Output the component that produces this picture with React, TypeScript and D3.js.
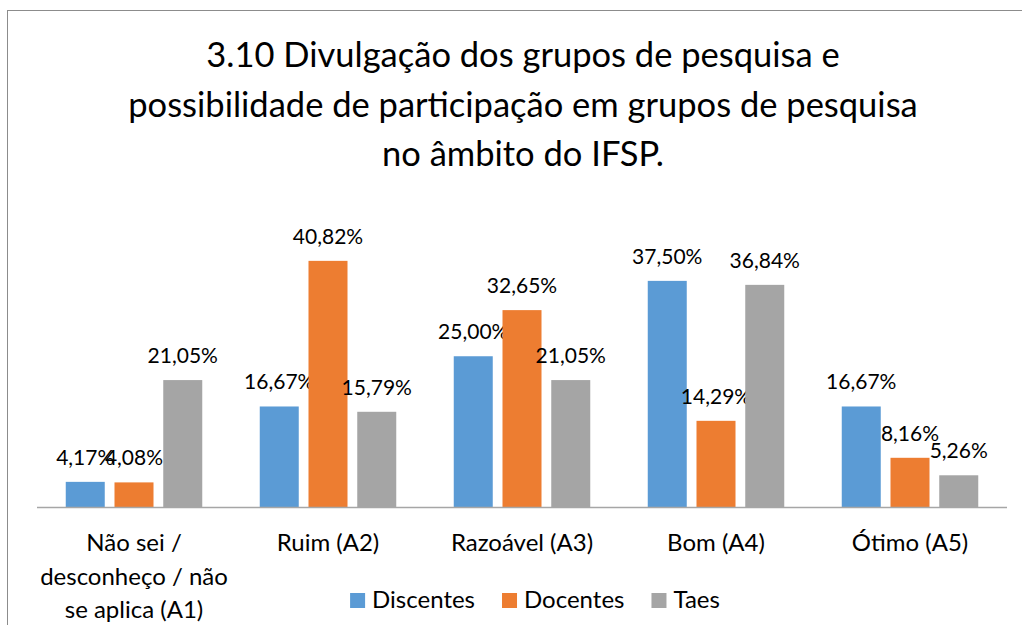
import * as d3 from 'd3';
import React, { useRef, useEffect } from 'react';

const categories = [
  ['Não sei /', 'desconheço / não', 'se aplica (A1)'],
  ['Ruim (A2)'],
  ['Razoável (A3)'],
  ['Bom (A4)'],
  ['Ótimo (A5)'],
];
const seriesNames = ['Discentes', 'Docentes', 'Taes'];
const discentes = [4.17, 16.67, 25.0, 37.5, 16.67];
const docentes = [4.08, 40.82, 32.65, 14.29, 8.16];
const taes = [21.05, 15.79, 21.05, 36.84, 5.26];
const colors = ['#5B9BD5', '#ED7D31', '#A5A5A5'];
const titleLines = [
  '3.10 Divulgação dos grupos de pesquisa e',
  'possibilidade de participação em grupos de pesquisa',
  'no âmbito do IFSP.',
];

const W = 1022;
const H = 625;
const FONT = 'Lato, "Open Sans", sans-serif';

function App() {
  const ref = useRef(null);

  useEffect(() => {
    const svg = d3.select(ref.current);
    svg.selectAll('*').remove();

    const series = [discentes, docentes, taes];
    const keys = categories.map((c, i) => 'c' + i);

    // chart area border (only left/top visible in the crop)
    svg.append('rect')
      .attr('x', 7.5).attr('y', 10.5)
      .attr('width', 1200).attr('height', 800)
      .attr('fill', '#fff').attr('stroke', '#8c8c8c').attr('stroke-width', 1);

    // title
    const title = svg.append('text')
      .attr('text-anchor', 'middle')
      .style('font-family', FONT).style('font-size', '34.5px').attr('fill', '#000');
    titleLines.forEach((t, i) => {
      title.append('tspan').attr('x', 523).attr('y', 67 + i * 49.5).text(t);
    });

    const baseY = 507;
    const x0 = d3.scaleBand().domain(keys).range([37, 1007]).padding(0);
    const groupW = 136.5;
    const x1 = d3.scaleBand().domain(seriesNames).range([0, groupW]).paddingInner(0.2);
    const y = d3.scaleLinear().domain([0, 50]).range([baseY, baseY - 301.5]);

    const g = svg.append('g');
    series.forEach((vals, si) => {
      const off = (x0.bandwidth() - groupW) / 2;
      g.selectAll('.bar' + si)
        .data(vals)
        .enter()
        .append('rect')
        .attr('x', (d, i) => x0(keys[i]) + off + x1(seriesNames[si]))
        .attr('y', (d) => y(d))
        .attr('width', x1.bandwidth())
        .attr('height', (d) => baseY - y(d))
        .attr('fill', colors[si]);

      g.selectAll('.lab' + si)
        .data(vals)
        .enter()
        .append('text')
        .attr('x', (d, i) => x0(keys[i]) + off + x1(seriesNames[si]) + x1.bandwidth() / 2)
        .attr('y', (d) => y(d) - 17)
        .attr('text-anchor', 'middle')
        .style('font-family', FONT).style('font-size', '21px').attr('fill', '#000')
        .text((d) => d.toFixed(2).replace('.', ',') + '%');
    });

    // category axis
    svg.append('line')
      .attr('x1', 37).attr('x2', 1007)
      .attr('y1', baseY + 0.5).attr('y2', baseY + 0.5)
      .attr('stroke', '#a6a6a6').attr('stroke-width', 1.3);

    categories.forEach((lines, i) => {
      const t = svg.append('text')
        .attr('text-anchor', 'middle')
        .style('font-family', FONT).style('font-size', '24px').attr('fill', '#000');
      lines.forEach((ln, j) => {
        t.append('tspan')
          .attr('x', x0(keys[i]) + x0.bandwidth() / 2)
          .attr('y', 551 + j * 33.5)
          .text(ln);
      });
    });

    // legend
    const legend = svg.append('g');
    let cx = 0;
    seriesNames.forEach((name, i) => {
      const item = legend.append('g').attr('transform', `translate(${cx},0)`);
      item.append('rect').attr('x', 0).attr('y', -15).attr('width', 15).attr('height', 15).attr('fill', colors[i]);
      const txt = item.append('text')
        .attr('x', 22).attr('y', 0)
        .style('font-family', FONT).style('font-size', '24px').attr('fill', '#000')
        .text(name);
      const w = txt.node().getComputedTextLength();
      cx += 22 + w + 27;
    });
    const totalW = cx - 27;
    legend.attr('transform', `translate(${535 - totalW / 2},608)`);
  }, []);

  return (
    <svg ref={ref} width={W} height={H}
      style={{ position: 'absolute', left: 0, top: 0, background: '#fff' }} />
  );
}

export default App;
